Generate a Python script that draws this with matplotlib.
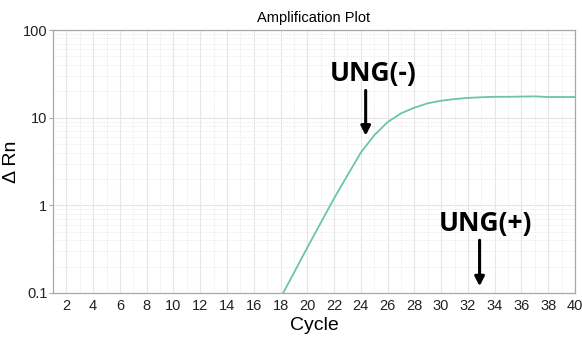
import matplotlib
matplotlib.use("Agg")
import matplotlib.pyplot as plt
from matplotlib.ticker import FixedLocator, LogLocator, NullFormatter

cycles = [18, 19, 20, 21, 22, 23, 24, 25, 26, 27, 28, 29, 30, 31, 32, 33, 34, 35, 36, 37, 38, 39, 40]
delta_rn = [0.088, 0.17, 0.33, 0.63, 1.2, 2.2, 4.0, 6.3, 8.9, 11.2, 13.0, 14.6, 15.6, 16.3, 16.8,
            17.1, 17.3, 17.3, 17.4, 17.5, 17.2, 17.2, 17.2]
x_ticks = list(range(2, 41, 2))
y_ticks = [0.1, 1, 10, 100]
y_tick_labels = ["0.1", "1", "10", "100"]

plt.rcParams["font.family"] = ["Liberation Sans", "DejaVu Sans"]

fig = plt.figure(figsize=(5.82, 3.38), dpi=100)
ax = fig.add_axes([53/582, 1-293/338, (575-53)/582, (293-30)/338])

ax.plot(cycles, delta_rn, color="#6cc5a3", lw=1.3, clip_on=True, zorder=3)
ax.set_yscale("log")
ax.set_xlim(1, 40)
ax.set_ylim(0.1, 100)

ax.xaxis.set_major_locator(FixedLocator(x_ticks))
ax.xaxis.set_minor_locator(FixedLocator(list(range(1, 41, 2))))
ax.set_yticks(y_ticks)
ax.set_yticklabels(y_tick_labels)
ax.yaxis.set_minor_locator(LogLocator(base=10, subs=range(2, 10)))
ax.yaxis.set_minor_formatter(NullFormatter())

ax.grid(True, which="major", color="#e6e6e6", lw=0.8, ls="-")
ax.grid(True, which="minor", color="#ebebeb", lw=0.7, ls=(0, (1, 1)))
ax.set_axisbelow(True)

for s in ax.spines.values():
    s.set_color("#a8a8a8")
    s.set_linewidth(0.9)

ax.tick_params(axis="both", which="both", length=0, labelsize=10.5, colors="#222222")
ax.tick_params(axis="x", pad=4)
ax.tick_params(axis="y", which="major", length=3, color="#a8a8a8", pad=1)

ax.set_title("Amplification Plot", fontsize=10.5, pad=6)
ax.set_xlabel("Cycle", fontsize=14, labelpad=3)
ax.set_ylabel("Δ Rn", fontsize=14, labelpad=2)

ax.annotate("", xy=(24.36, 5.8), xytext=(24.36, 22.0),
            arrowprops=dict(arrowstyle="-|>,head_length=0.55,head_width=0.28", color="black", lw=2.2))
ax.text(24.9, 32, "UNG(-)", fontsize=19, fontweight="bold", family="Open Sans",
        ha="center", va="center", color="black")

ax.annotate("", xy=(32.87, 0.111), xytext=(32.87, 0.43),
            arrowprops=dict(arrowstyle="-|>,head_length=0.55,head_width=0.28", color="black", lw=2.2))
ax.text(33.3, 0.62, "UNG(+)", fontsize=19, fontweight="bold", family="Open Sans",
        ha="center", va="center", color="black")

fig.savefig("out.png", dpi=100)
